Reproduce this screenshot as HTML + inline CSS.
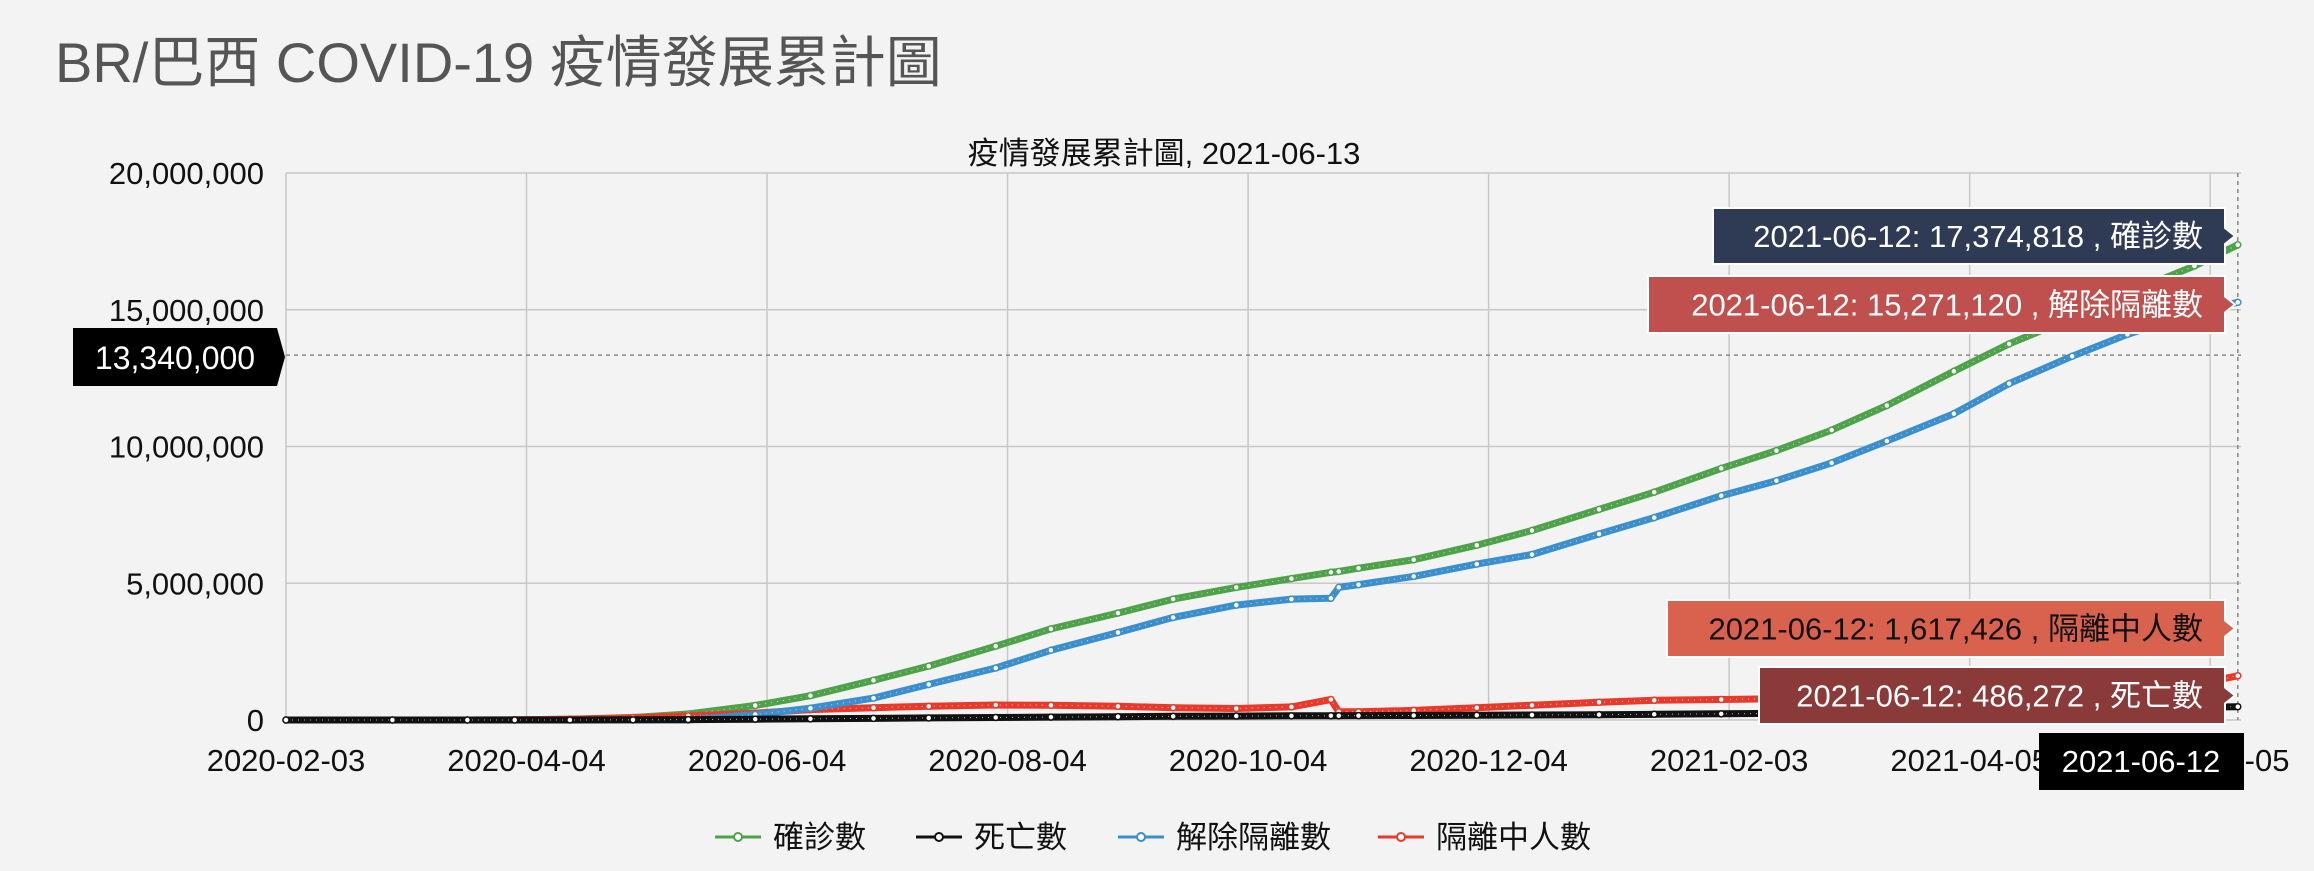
<!DOCTYPE html>
<html><head><meta charset="utf-8"><style>
body{margin:0;width:2314px;height:866px;background:#f3f3f3;overflow:hidden;font-family:"Liberation Sans","Noto Sans CJK TC",sans-serif;}
</style></head><body>
<svg id="c" width="2314" height="866" xmlns="http://www.w3.org/2000/svg" style="font-family:'Liberation Sans','Noto Sans CJK TC',sans-serif"></svg>
<script>
const dates=["2020-02-03","2020-03-01","2020-03-20","2020-04-01","2020-04-15","2020-05-01","2020-05-15","2020-06-01","2020-06-15","2020-07-01","2020-07-15","2020-08-01","2020-08-15","2020-09-01","2020-09-15","2020-10-01","2020-10-15","2020-10-25","2020-10-27","2020-11-01","2020-11-15","2020-12-01","2020-12-15","2021-01-01","2021-01-15","2021-02-01","2021-02-15","2021-03-01","2021-03-15","2021-04-01","2021-04-15","2021-05-01","2021-05-15","2021-06-01","2021-06-12"];
const confirmed=[0,2,900,6800,28000,92000,220000,530000,890000,1450000,1970000,2700000,3330000,3910000,4420000,4850000,5170000,5400000,5430000,5550000,5860000,6390000,6930000,7700000,8330000,9200000,9850000,10600000,11500000,12750000,13750000,14700000,15600000,16600000,17374818];
const deaths=[0,0,10,300,1700,6300,14800,30000,43000,60000,75000,93000,107000,122000,134000,144000,152000,157000,157500,160000,166000,174000,182000,195000,208000,225000,240000,255000,280000,325000,365000,405000,435000,465000,486272];
const recovered=[0,0,0,0,0,0,0,200000,430000,800000,1300000,1900000,2550000,3200000,3750000,4200000,4420000,4450000,4850000,4950000,5250000,5700000,6050000,6800000,7400000,8200000,8750000,9400000,10200000,11200000,12300000,13300000,14100000,14900000,15271120];
const active=[0,2,850,6500,26000,80000,150000,250000,380000,450000,500000,550000,540000,500000,450000,420000,480000,750000,300000,300000,350000,450000,540000,650000,720000,750000,780000,800000,900000,1100000,1120000,1100000,1150000,1300000,1617426];
const yTicks=[0,5000000,10000000,15000000,20000000];
const xTickLabels=["2020-02-03","2020-04-04","2020-06-04","2020-08-04","2020-10-04","2020-12-04","2021-02-03","2021-04-05","2021-06-05"];

const svg=document.getElementById('c');const NS="http://www.w3.org/2000/svg";
const L=286,R=2241,T=173,B=720;
const t0=Date.parse("2020-02-03");
const day=s=>(Date.parse(s)-t0)/864e5;
const xs=s=>L+day(s)*3.943;
const ys=v=>B-v/20000000*(B-T);
function el(tag,attrs,parent){const e=document.createElementNS(NS,tag);for(const k in attrs)e.setAttribute(k,attrs[k]);(parent||svg).appendChild(e);return e;}
function txt(s,attrs){const e=el('text',attrs);e.textContent=s;return e;}

let t=txt("BR/巴西 COVID-19 疫情發展累計圖",{x:55,y:82,'font-size':56,fill:'#555'});


t=txt("疫情發展累計圖, 2021-06-13",{x:1164,y:164,'font-size':31,'text-anchor':'middle',fill:'#111'});



yTicks.forEach(v=>{const y=ys(v);
 const g=el('line',{x1:L,x2:R,y1:y,y2:y,stroke:'#c8c8c8','stroke-width':1.5});
 
 
 const l=txt(v.toLocaleString('en-US'),{x:264,y:y+11,'font-size':31,'text-anchor':'end',fill:'#111'});
 
 
});
xTickLabels.forEach(s=>{const x=xs(s);
 const g=el('line',{x1:x,x2:x,y1:T,y2:B,stroke:'#c8c8c8','stroke-width':1.5});
 
 
 const l=txt(s,{x:x,y:771,'font-size':31,'text-anchor':'middle',fill:'#111'});
 
 
});
let ch=el('line',{x1:L,x2:R,y1:ys(13340000),y2:ys(13340000),stroke:'#888','stroke-width':1.5,'stroke-dasharray':'4,4'});


ch=el('line',{x1:xs("2021-06-12"),x2:xs("2021-06-12"),y1:T,y2:B,stroke:'#888','stroke-width':1.5,'stroke-dasharray':'4,4'});



const series=[["confirmed",confirmed,'#4ea24a'],["active",active,'#e8392a'],["recovered",recovered,'#3a8fcc'],["deaths",deaths,'#111']];
series.forEach(([n,vals,col])=>{
 const g=el('g',{});
 
 
 const pts=dates.map((d,i)=>xs(d).toFixed(1)+','+ys(vals[i]).toFixed(1)).join(' ');
 const p=el('polyline',{points:pts,fill:'none',stroke:col,'stroke-width':7,'stroke-linejoin':'round'},g);
 
 
 const p2=el('polyline',{points:pts,fill:'none',stroke:'#fff','stroke-width':1,'stroke-dasharray':'1,5','stroke-opacity':0.7},g);
 
 
 dates.forEach((d,i)=>{const c=el('circle',{cx:xs(d),cy:ys(vals[i]),r:3,fill:'#fff',stroke:col,'stroke-width':1.5},g);
  
  });
});

let yl=el('path',{d:'M73,328 H277 L285,357 L277,386 H73 Z',fill:'#000'});


t=txt("13,340,000",{x:175,y:369,'font-size':32,'text-anchor':'middle',fill:'#fff'});


let xl=el('rect',{x:2039,y:733,width:205,height:57,fill:'#000'});


t=txt("2021-06-12",{x:2141,y:772,'font-size':31,'text-anchor':'middle',fill:'#fff'});



const tips=[["2021-06-12: 17,374,818 , 確診數",1713,208,56,'#2f3a55','#fff','tooltip-confirmed'],
["2021-06-12: 15,271,120 , 解除隔離數",1648,276,57,'#c0504d','#fff','tooltip-recovered'],
["2021-06-12: 1,617,426 , 隔離中人數",1667,600,57,'#d9624e','#111','tooltip-active'],
["2021-06-12: 486,272 , 死亡數",1759,667,57,'#8b3a3a','#fff','tooltip-deaths']];
tips.forEach(([s,x,y,h,bg,fg,name])=>{
 const g=el('g',{});
 
 
 const r=el('path',{d:`M${x},${y} H2225 V${y+h/2-8} L2235,${y+h/2} L2225,${y+h/2+8} V${y+h} H${x} Z`,fill:bg,stroke:'#fff','stroke-width':2},g);
 
 
 const tx=el('text',{x:2203,y:y+h/2+11,'font-size':31,'text-anchor':'end',fill:fg},g);tx.textContent=s;
 
 
});

const legend=[["確診數",'#4ea24a',715],["死亡數",'#111',916],["解除隔離數",'#3a8fcc',1118],["隔離中人數",'#e8392a',1378]];
legend.forEach(([s,col,x])=>{
 const g=el('g',{});
 
 
 el('line',{x1:x,x2:x+46,y1:837,y2:837,stroke:col,'stroke-width':3},g);
 el('circle',{cx:x+23,cy:837,r:4,fill:'#fff',stroke:col,'stroke-width':2},g);
 const tx=el('text',{x:x+58,y:848,'font-size':31,fill:'#111'},g);tx.textContent=s;
});
</script>
</body></html>
